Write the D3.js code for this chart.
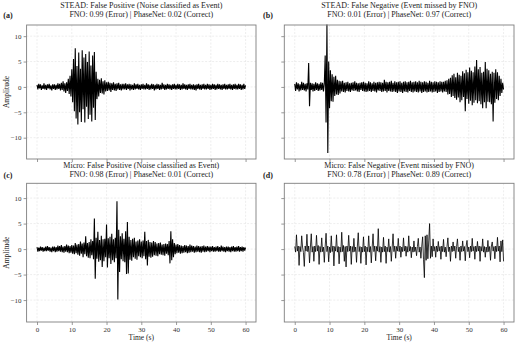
<!DOCTYPE html>
<html><head><meta charset="utf-8">
<script src="https://cdn.jsdelivr.net/npm/d3@7"></script>
<style>
html,body{margin:0;padding:0;background:#fff;}
svg text{font-family:"Liberation Serif","DejaVu Serif",serif;fill:#222;}
</style></head>
<body><svg id="c" width="515" height="343"></svg>
<script>
// sample spacing 0.25 s, 0..60 s
const dt = 0.25;
const xTicks = [0,10,20,30,40,50,60];
const yTicks = [-10,-5,0,5,10];
const titles = [
 ["STEAD: False Positive (Noise classified as Event)","FNO: 0.99 (Error) | PhaseNet: 0.02 (Correct)"],
 ["STEAD: False Negative (Event missed by FNO)","FNO: 0.01 (Error) | PhaseNet: 0.97 (Correct)"],
 ["Micro: False Positive (Noise classified as Event)","FNO: 0.98 (Error) | PhaseNet: 0.01 (Correct)"],
 ["Micro: False Negative (Event missed by FNO)","FNO: 0.78 (Error) | PhaseNet: 0.89 (Correct)"]
];
const panelLabels = ["(a)","(b)","(c)","(d)"];

const steadFP = [
0.4,-0.5,0.6,-0.3,0.5,-0.6,0.3,-0.4,0.7,-0.5,0.4,-0.6,0.5,-0.3,0.6,-0.5,0.3,-0.7,0.5,-0.4,
0.5,-0.6,0.4,-0.5,0.7,-0.4,0.6,-0.7,0.8,-0.6,1.1,-0.9,0.7,-1.2,0.9,-0.8,1.6,-1.4,2.2,-1.9,
3.5,-3.0,5.5,-4.8,7.6,-6.2,4.1,-7.4,6.8,-5.0,3.6,-6.9,7.2,-4.4,5.8,-7.0,6.5,-3.9,4.9,-6.3,
7.0,-5.5,4.2,-6.8,6.2,-4.1,6.9,-6.5,3.0,-2.4,1.6,-1.9,1.4,-1.2,1.7,-1.3,1.1,-1.5,1.3,-0.9,
0.9,-0.8,1.0,-0.7,0.8,-1.0,0.7,-0.6,0.9,-0.7,0.6,-0.8,0.7,-0.5,0.8,-0.6,0.5,-0.7,0.6,-0.5,
0.6,-0.5,0.7,-0.6,0.5,-0.4,0.6,-0.7,0.5,-0.5,0.4,-0.6,0.7,-0.5,0.5,-0.4,0.6,-0.5,0.4,-0.6,
0.5,-0.4,0.6,-0.5,0.4,-0.5,0.7,-0.4,0.5,-0.6,0.4,-0.5,0.6,-0.4,0.5,-0.7,0.4,-0.5,0.6,-0.4,
0.5,-0.6,0.4,-0.5,0.8,-0.4,0.5,-0.6,0.4,-0.5,0.6,-0.4,0.5,-0.5,0.4,-0.6,0.5,-0.4,0.6,-0.5,
0.4,-0.5,0.6,-0.4,0.5,-0.6,0.4,-0.5,0.7,-0.4,0.5,-0.5,0.4,-0.6,0.5,-0.4,0.6,-0.5,0.4,-0.5,
0.5,-0.6,0.4,-0.7,0.5,-0.4,0.6,-0.5,0.4,-0.6,0.5,-0.4,0.6,-0.5,0.4,-0.5,0.6,-0.4,0.5,-0.6,
0.4,-0.5,0.6,-0.4,0.5,-0.6,0.4,-0.5,0.6,-0.4,0.5,-0.5,0.4,-0.6,0.5,-0.4,0.6,-0.5,0.4,-0.5,
0.5,-0.4,0.6,-0.5,0.4,-0.6,0.5,-0.4,0.6,-0.5,0.4,-0.5,0.6,-0.4,0.5,-0.6,0.4,-0.5,0.6,-0.4,
0.3];

const steadFN = [
0.6,-0.8,0.9,-0.5,0.7,-0.9,0.5,-0.7,1.0,-0.6,0.8,-0.7,0.6,-0.9,0.7,-0.5,4.7,-3.8,0.8,-0.6,
0.7,-0.9,0.6,-0.8,0.9,-0.6,0.7,-0.8,0.6,-0.7,0.9,-0.6,0.8,-0.9,0.7,6.2,-7.0,12.3,-13.0,5.0,
-4.2,3.3,-2.8,2.5,-2.9,2.0,-1.8,2.2,-1.5,1.4,-1.6,1.2,-1.3,1.1,-0.9,1.2,-1.0,0.8,-1.1,0.9,
-0.8,1.0,-0.9,0.7,-1.0,0.8,-0.7,0.9,-0.8,1.1,-0.7,0.8,-0.9,0.7,-1.0,0.8,-0.6,0.9,-0.8,1.0,
-0.9,0.8,-1.0,0.7,-0.9,1.1,-0.8,0.9,-1.0,0.7,-0.8,1.0,-0.9,0.8,-1.1,0.9,-0.7,1.0,-0.8,0.9,
-1.0,0.8,-0.9,1.4,-0.8,1.0,-1.1,0.9,-0.8,1.0,-0.9,1.2,-1.0,0.8,-0.9,1.1,-1.0,0.9,-1.2,1.0,
-0.9,1.1,-1.0,0.8,-1.2,1.0,-0.9,1.1,-1.0,0.9,-1.1,1.0,-0.8,1.2,-1.0,0.9,-1.1,1.0,-0.9,1.1,
-1.0,0.9,-1.1,1.2,-0.9,1.0,-1.2,0.9,-1.0,1.1,-0.9,1.0,-1.1,0.8,-1.0,1.2,-0.9,1.0,-1.1,0.9,
-1.0,1.1,-0.9,1.0,-1.2,0.9,-1.0,1.1,-0.9,1.0,-1.1,1.0,-0.9,1.2,-1.0,1.3,-1.5,1.6,-1.4,1.8,
-2.0,2.3,-1.8,2.6,-2.2,1.9,-2.5,2.8,-2.1,2.4,-3.0,2.2,-2.6,3.1,-2.0,2.7,-4.8,3.4,-2.4,2.9,
-3.3,3.8,-2.7,3.2,-3.6,2.9,-3.1,4.0,-2.6,5.3,-3.2,3.5,-2.8,3.9,-3.4,2.8,-4.2,3.0,-3.0,4.9,
-4.2,3.6,-2.9,3.3,-3.0,2.6,-3.4,3.0,-6.8,2.8,-3.1,3.5,-2.4,2.9,-2.6,2.2,-1.8,1.6,-1.2,0.8,
-0.5];

const microFP = [
0.4,-0.5,0.3,-0.4,0.5,-0.3,0.4,-0.5,0.3,-0.4,0.5,-0.4,0.6,-0.3,0.4,-0.5,0.3,-0.6,0.5,-0.4,
0.5,-0.6,0.4,-0.5,0.7,-0.4,0.6,-0.5,0.8,-0.6,0.5,-0.7,0.6,-0.5,0.9,-0.6,0.7,-0.8,0.6,-0.7,
0.8,-0.9,0.7,-1.0,1.2,-0.8,0.9,-1.1,1.0,-1.3,1.5,-0.9,1.1,-1.6,1.3,-1.0,2.5,-1.4,1.2,-1.7,
1.4,-1.8,1.9,-1.2,1.6,-2.0,6.0,-5.8,2.2,-1.9,3.4,-2.5,1.8,-2.2,2.6,-3.5,1.9,-2.4,2.0,-1.6,
4.8,-3.6,2.1,-1.8,2.4,-2.9,3.0,-2.2,1.9,-2.6,2.2,-1.8,9.4,-9.9,3.8,-4.5,2.5,-2.0,3.1,-2.4,
2.0,-2.6,3.5,-4.9,5.3,-4.8,2.4,-2.1,1.8,-2.3,2.0,-1.6,2.2,-1.9,1.5,-2.1,1.7,-1.4,1.9,-1.6,
1.5,-1.8,1.7,-1.4,3.4,-2.0,1.6,-3.2,1.8,-1.5,1.4,-1.7,1.3,-1.5,1.6,-1.2,1.4,-1.3,1.1,-1.4,
1.2,-1.0,1.3,-1.1,0.9,-1.2,1.0,-1.3,1.1,-0.9,1.0,-1.2,1.6,-2.8,3.5,-2.2,1.9,-1.6,1.2,-1.0,
0.9,-0.8,1.0,-0.7,0.8,-0.9,0.7,-0.8,0.6,-0.7,0.8,-0.6,0.7,-0.8,0.6,-0.7,0.9,-0.6,0.7,-0.5,
0.6,-0.7,0.5,-0.6,0.7,-0.5,0.6,-0.6,0.5,-0.7,0.6,-0.5,0.7,-0.6,0.5,-0.5,0.6,-0.4,0.5,-0.6,
0.5,-0.4,0.6,-0.5,0.4,-0.5,0.5,-0.4,0.6,-0.5,0.4,-0.5,0.7,-0.4,0.5,-0.5,0.4,-0.6,0.5,-0.4,
0.5,-0.5,0.4,-0.6,0.5,-0.4,0.6,-0.5,0.4,-0.5,0.5,-0.4,0.6,-0.5,0.4,-0.4,0.5,-0.5,0.4,-0.3,
0.3];

const microFN = [
0.5,-0.6,2.8,-0.4,0.6,-3.2,0.5,-0.5,2.6,0.4,-0.7,-3.4,0.6,-0.4,2.9,-0.5,0.6,-2.7,0.4,3.0,
-0.6,0.5,-2.4,0.6,-0.5,2.7,-0.4,0.7,-3.0,0.5,-0.6,2.2,-0.5,0.4,-2.6,0.6,3.1,-0.5,0.6,-2.5,
0.4,-0.7,2.6,-0.5,0.6,-3.3,0.5,-0.4,2.8,-0.6,0.5,-2.9,0.4,-0.6,3.3,-0.5,0.7,-2.4,0.5,-3.5,
0.6,-0.5,2.7,-0.4,0.6,-3.0,0.5,-0.6,2.1,-0.5,0.4,-2.6,0.6,3.2,-0.5,0.5,-2.8,0.4,-0.6,2.4,
-0.5,0.6,-3.1,0.4,-0.5,2.6,-0.6,0.5,-2.7,0.4,3.0,-0.5,0.6,-2.3,0.5,-0.4,4.0,-0.6,0.5,-2.6,
0.4,-0.6,2.3,-0.5,0.6,-2.8,0.4,-0.5,2.0,-0.6,0.5,-2.4,0.4,3.0,-0.5,0.6,-1.8,0.5,-0.4,2.1,
-0.5,0.6,-1.6,0.4,-0.5,2.2,-0.4,0.6,-1.4,0.5,-0.6,2.6,-0.4,0.5,-1.7,0.4,-0.6,1.6,-0.5,0.4,
-1.3,0.5,2.1,-0.6,0.4,-1.8,0.6,2.4,-2.0,-5.6,2.6,-2.2,2.8,-1.9,1.6,5.0,-1.8,0.6,-1.5,2.0,
-0.4,0.5,-1.6,0.6,-0.5,1.5,-0.4,0.5,-2.0,0.6,-0.5,1.9,-0.6,0.4,-1.5,0.5,2.2,-0.5,0.4,-2.4,
0.6,-0.5,1.4,-0.4,0.6,-1.8,0.5,2.0,-0.5,0.4,-2.2,0.6,-0.5,1.6,-0.4,0.5,-2.3,0.6,1.7,-0.5,
0.4,-1.7,0.6,-0.5,2.1,-0.4,0.5,-2.0,0.6,-0.5,1.5,-0.4,0.6,-2.4,0.5,-0.4,2.0,-0.6,0.5,-1.6,
0.4,-0.6,1.7,-0.5,0.5,-2.2,0.6,1.4,-0.4,0.5,-1.9,0.6,-0.5,2.3,-0.4,0.6,-2.5,1.6,-0.5,1.8,
-2.4];

const series = [steadFP, steadFN, microFP, microFN];
const strokeW = [1.1, 1.1, 1.1, 0.8];

const svg = d3.select("#c");
const cols = [[26.6,256],[284.3,514]];
const rows = [{r:[159,25], d:[-14.2,12.2]}, {r:[322,183.3], d:[-14.3,12.9]}];
const axisCol = "#7f7f7f";

series.forEach((data,i)=>{
  const col = i%2, row = Math.floor(i/2);
  const x = d3.scaleLinear().domain([-3,63]).range(cols[col]);
  const y = d3.scaleLinear().domain(rows[row].d).range(rows[row].r);
  const [x0,x1] = cols[col], [yb,yt] = rows[row].r;
  const g = svg.append("g");
  // grid
  g.selectAll("line.gx").data(xTicks).join("line")
    .attr("x1",d=>x(d)).attr("x2",d=>x(d)).attr("y1",yt).attr("y2",yb)
    .attr("stroke","#e3e3e3").attr("stroke-width",0.6).attr("stroke-dasharray","2,1.5");
  g.selectAll("line.gy").data(yTicks).join("line")
    .attr("y1",d=>y(d)).attr("y2",d=>y(d)).attr("x1",x0).attr("x2",x1)
    .attr("stroke","#e3e3e3").attr("stroke-width",0.6).attr("stroke-dasharray","2,1.5");
  // waveform
  const line = d3.line().x((d,k)=>x(k*dt)).y(d=>y(d));
  g.append("path").datum(data).attr("d",line)
    .attr("fill","none").attr("stroke","#000").attr("stroke-width",strokeW[i]).attr("stroke-linejoin","miter").attr("stroke-miterlimit",2);
  // axes
  const ax = d3.axisBottom(x).tickValues(xTicks).tickSize(3).tickPadding(2)
     .tickFormat(row===1? d3.format("d") : ()=>"");
  const ay = d3.axisLeft(y).tickValues(yTicks).tickSize(3).tickPadding(2)
     .tickFormat(col===0? (d=>d<0? "\u2212"+Math.abs(d): String(d)) : ()=>"");
  const gx = g.append("g").attr("transform",`translate(0,${yb})`).call(ax);
  const gy = g.append("g").attr("transform",`translate(${x0},0)`).call(ay);
  [gx,gy].forEach(a=>{
    a.select(".domain").remove();
    a.selectAll(".tick line").attr("stroke",axisCol).attr("stroke-width",0.8);
    a.selectAll(".tick text").attr("font-size",7).style("fill","#333");
  });
  g.append("rect").attr("x",x0).attr("y",yt).attr("width",x1-x0).attr("height",yb-yt)
    .attr("fill","none").attr("stroke",axisCol).attr("stroke-width",0.9);
  // titles
  const cx = (x0+x1)/2;
  const ty = row===0 ? 5 : 165;
  g.append("text").attr("x",cx).attr("y",ty).attr("dy","0.35em").attr("text-anchor","middle")
    .attr("font-size",8).text(titles[i][0]);
  g.append("text").attr("x",cx).attr("y",ty+9).attr("dy","0.35em").attr("text-anchor","middle")
    .attr("font-size",8).text(titles[i][1]);
  g.append("text").attr("x",col===0?8:268).attr("y",ty+10.5).attr("dy","0.35em").attr("text-anchor","middle")
    .attr("font-size",8).attr("font-weight","bold").text(panelLabels[i]);
  if(col===0){
    g.append("text").attr("transform",`translate(6,${(yt+yb)/2}) rotate(-90)`)
      .attr("text-anchor","middle").attr("dy","0.35em").attr("font-size",7.5).text("Amplitude");
  }
  if(row===1){
    g.append("text").attr("x",cx).attr("y",337).attr("dy","0.35em").attr("text-anchor","middle")
      .attr("font-size",7.5).text("Time (s)");
  }
});
</script></body></html>
